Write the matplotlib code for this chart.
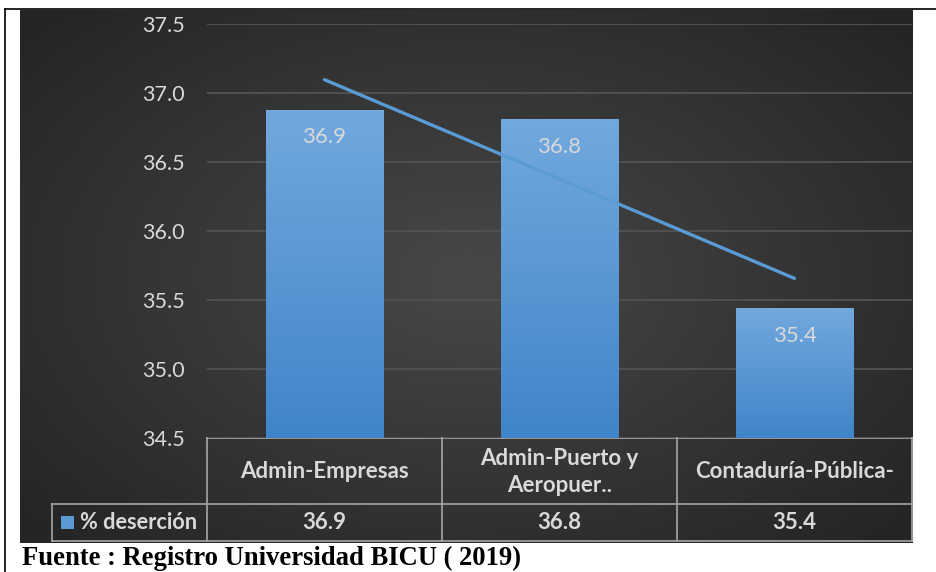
import numpy as np
import matplotlib
matplotlib.use("Agg")
import matplotlib.pyplot as plt
from matplotlib.patches import Rectangle
from matplotlib.transforms import blended_transform_factory

# ---- data ----
categories = ["Admin-Empresas", "Admin-Puerto y\nAeropuer..", "Contaduría-Pública-"]
values = [36.88, 36.81, 35.44]
series_name = "% deserción"
yticks = [34.5, 35.0, 35.5, 36.0, 36.5, 37.0, 37.5]
footer = "Fuente : Registro Universidad BICU ( 2019)"

W, H = 936, 572
fig = plt.figure(figsize=(W / 100, H / 100), dpi=100)
fig.patch.set_facecolor("white")

# pixel-space overlay axes
px = fig.add_axes([0, 0, 1, 1])
px.set_xlim(0, W)
px.set_ylim(H, 0)
px.axis("off")

# dark radial gradient background
x0, x1, y0, y1 = 20, 913, 10, 543
gx, gy = np.meshgrid(np.linspace(-1, 1, 300), np.linspace(-1, 1, 200))
r = np.sqrt((gx * 0.95) ** 2 + (gy * 0.9) ** 2)
r = np.clip(r / 1.25, 0, 1)
c_in = np.array([0x48, 0x48, 0x48]) / 255
c_out = np.array([0x25, 0x25, 0x25]) / 255
img = c_in[None, None, :] * (1 - r[..., None]) + c_out[None, None, :] * r[..., None]
px.imshow(img, extent=(x0, x1, y1, y0), aspect="auto", zorder=0, interpolation="bicubic")
px.set_xlim(0, W)
px.set_ylim(H, 0)

# outer black border lines
px.plot([5, W], [9, 9], color="black", lw=1.2, zorder=1)
px.plot([5, 5], [9, H], color="black", lw=1.2, zorder=1)

# main chart axes
L, R, T, B = 207, 912, 24, 438
ax = fig.add_axes([L / W, 1 - B / H, (R - L) / W, (B - T) / H])
ax.patch.set_alpha(0)
ax.set_xlim(-0.5, len(categories) - 0.5)
ax.set_ylim(yticks[0], yticks[-1])
for s in ax.spines.values():
    s.set_visible(False)
ax.set_yticks(yticks)
ax.set_yticklabels([f"{t:.1f}" for t in yticks], fontsize=15.5, color="#d9d9d9", family="Lato")
ax.tick_params(axis="y", length=0, pad=16)
ax.set_xticks([])
ax.yaxis.grid(True, color="#505050", lw=1.4)
ax.set_axisbelow(True)

x = np.arange(len(categories))
bars = ax.bar(x, values, width=0.5, color="none", edgecolor="none", zorder=2)
grad = np.linspace(0, 1, 100)[:, None]
top_c = np.array([0x72, 0xa8, 0xde]) / 255
bot_c = np.array([0x40, 0x85, 0xc9]) / 255
bar_img = top_c[None, None, :] * (1 - grad[..., None]) + bot_c[None, None, :] * grad[..., None]
for b in bars:
    bx, by, bw, bh = b.get_x(), b.get_y(), b.get_width(), b.get_height()
    im = ax.imshow(bar_img, extent=(bx, bx + bw, yticks[0], by + bh), aspect="auto", zorder=2)
    im.set_clip_path(b)
ax.set_xlim(-0.5, len(categories) - 0.5)
ax.set_ylim(yticks[0], yticks[-1])

# data labels inside bars
for xi, v in zip(x, values):
    ax.annotate(f"{v:.1f}", (xi, v), xytext=(0, -20), textcoords="offset points",
                ha="center", va="center", fontsize=16, color="#d9d9d9", family="Lato", zorder=4)

# linear trendline
coef = np.polyfit(x, values, 1)
ax.plot(x, np.polyval(coef, x), color="#5b9bd5", lw=2.4, solid_capstyle="round", zorder=3)

# data table beneath the axes
tr = blended_transform_factory(ax.transData, px.transData)
line_c = "#a6a6a6"
tlw = 1.2
row1_top, row1_bot, row2_bot = 438, 504, 541
px.plot([L, R], [row1_top, row1_top], color=line_c, lw=tlw, zorder=3)
px.plot([52, R], [row1_bot, row1_bot], color=line_c, lw=tlw, zorder=3)
px.plot([52, R], [row2_bot, row2_bot], color=line_c, lw=tlw, zorder=3)
px.plot([52, 52], [row1_bot, row2_bot], color=line_c, lw=tlw, zorder=3)
for xb in np.arange(len(categories) + 1) - 0.5:
    ax.plot([xb, xb], [row1_top, row2_bot], color=line_c, lw=tlw, transform=tr, clip_on=False, zorder=3)
for xi, cat, v in zip(x, categories, values):
    ax.text(xi, (row1_top + row1_bot) / 2 + 1, cat, transform=tr, ha="center", va="center",
            fontsize=16, fontweight="bold", color="#d9d9d9", family="Lato",
            linespacing=1.3, clip_on=False)
    ax.text(xi, (row1_bot + row2_bot) / 2, f"{v:.1f}", transform=tr, ha="center", va="center",
            fontsize=16, fontweight="bold", color="#d9d9d9", family="Lato", clip_on=False)

# legend key in the table
px.add_patch(Rectangle((61, 516), 13, 13, facecolor="#5b9bd5", edgecolor="none", zorder=4))
px.text(80, (row1_bot + row2_bot) / 2, series_name, ha="left", va="center", fontsize=15.7,
        fontweight="bold", color="#d9d9d9", family="Lato", zorder=4)

# footer
px.text(22, 558, footer, ha="left", va="center", fontsize=19.2, fontweight="bold",
        family="Liberation Serif", color="black")

fig.savefig("out.png", dpi=100, facecolor="white")
